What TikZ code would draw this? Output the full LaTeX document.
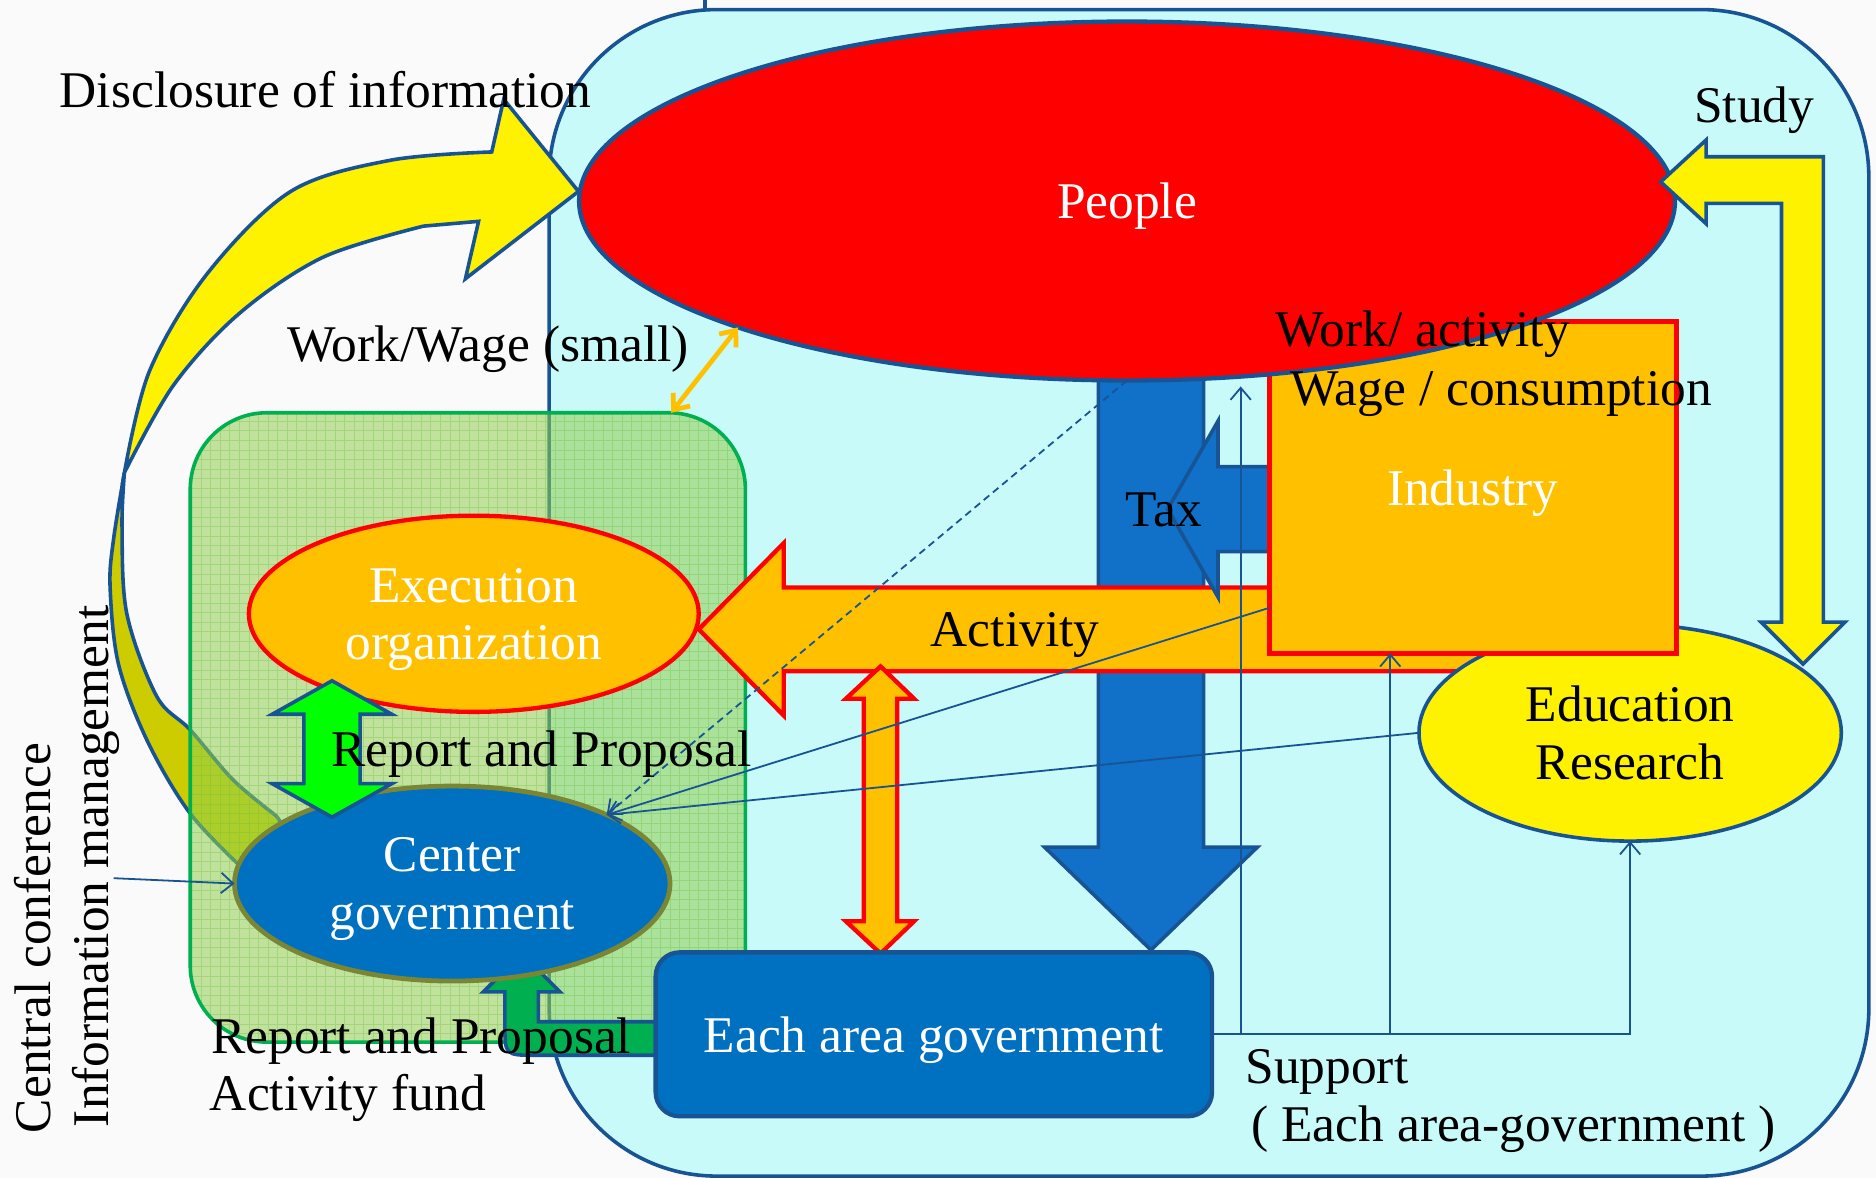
\documentclass[tikz,border=0pt]{standalone}
\usepackage{fontspec}
\setmainfont{Liberation Serif}
\usetikzlibrary{shapes.geometric, arrows.meta}
\definecolor{bg}{RGB}{250,250,250}
\definecolor{cyanfill}{RGB}{200,250,250}
\definecolor{dblue}{RGB}{24,84,148}
\definecolor{orng}{RGB}{255,192,0}
\definecolor{boxblue}{RGB}{0,112,192}
\definecolor{taxblue}{RGB}{17,112,200}
\definecolor{olivebd}{RGB}{122,134,52}
\definecolor{brgreen}{RGB}{0,255,0}
\definecolor{dgreen}{RGB}{0,176,80}
\definecolor{gfill}{RGB}{146,208,80}
\definecolor{gridgreen}{RGB}{110,190,60}
\definecolor{olivefill}{RGB}{204,204,0}
\begin{document}
\begin{tikzpicture}[x=0.5pt, y=-0.5pt,
  every node/.style={font=\fontsize{21.5}{24}\selectfont, inner sep=0pt, outer sep=0pt},
  lbl/.style={anchor=base west, text=black},
  intext/.style={text depth=0pt, align=center},
  thinarr/.style={draw=dblue, line width=0.75pt, -{Straight Barb[length=5pt,width=8.5pt]}},
  blk/.style={line width=1.5pt, line join=miter},
]
% background and bounding box
\fill[bg] (0,0) rectangle (1568,984.6);
\useasboundingbox (0,0) rectangle (1568,984.6);

% outer cyan region
\draw[fill=cyanfill, draw=dblue, line width=1.5pt, rounded corners=70pt] (459,8) rectangle (1562,983);
\draw[dblue, line width=1.5pt] (589,-2) -- (589,9);

% curved yellow arrow (back part)
\filldraw[fill=olivefill, draw=dblue, line width=1.5pt, line join=round]
  plot[smooth, tension=0.55] coordinates {(104,395) (95,450) (92,490) (99,555) (123,619) (159,680) (205,728)}
  -- (240,695)
  -- plot[smooth, tension=0.55] coordinates {(231,682) (195,652) (159,610) (131,582) (106,513) (102,440) (104,395)}
  -- cycle;
% curved yellow arrow (front part)
\filldraw[fill=yellow, draw=dblue, blk]
  plot[smooth, tension=0.55] coordinates {(104,395) (125,310) (173,229) (243,160) (326,134) (411,127)}
  -- (421,83) -- (483.5,160) -- (389,233) -- (400,185)
  -- plot[smooth, tension=0.55] coordinates {(354,189) (270,215) (200,262) (145,322) (104,395)}
  -- cycle;

% green translucent box with fine grid
\node[fill=gfill, fill opacity=0.55, rounded corners=32pt,
      minimum width=232pt, minimum height=263pt] (gbox) at (391,608) {};
\begin{scope}
  \clip[rounded corners=32pt] (159,345) rectangle (623,871);
  \draw[gridgreen, line width=0.25pt, opacity=0.35, step=4pt] (150,340) grid (630,880);
\end{scope}
\draw[dgreen, line width=1.5pt, rounded corners=32pt] (gbox.south west) rectangle (gbox.north east);

% big tax arrow
\filldraw[fill=taxblue, draw=dblue, blk] (918,300) -- (918,708) -- (873,708) -- (962,794) -- (1051,708) -- (1006,708) -- (1006,300) -- cycle;

% activity arrow
\filldraw[fill=orng, draw=red, line width=1.8pt, line join=miter] (1250,491) -- (655,491) -- (655,454) -- (584,526) -- (655,598) -- (655,561) -- (1250,561) -- cycle;

% education
\node[ellipse, draw=dblue, line width=1.5pt, fill=yellow, minimum width=176.5pt, minimum height=90.5pt, intext] (edu) at (1362.5,612.5) {Education\\Research};

% small tax arrow
\filldraw[fill=taxblue, draw=dblue, blk] (1080,390) -- (1018,390) -- (1018,352) -- (976,425.5) -- (1018,499) -- (1018,461) -- (1080,461) -- cycle;

% industry
\node[draw=red, line width=2pt, fill=orng, minimum width=170pt, minimum height=138.5pt, text=white, intext] (ind) at (1231,407.5) {Industry};

% people
\node[ellipse, draw=dblue, line width=1.8pt, fill=red, minimum width=458pt, minimum height=150pt, text=white, intext] (people) at (942,168) {People};

% study arrow
\filldraw[fill=yellow, draw=dblue, blk] (1489,520) -- (1472,520) -- (1507,555) -- (1542,520) -- (1524,520) -- (1524,131) -- (1426,131) -- (1426,117) -- (1388,152) -- (1426,187) -- (1426,170) -- (1489,170) -- cycle;

% green bent arrow (report / fund)
\filldraw[fill=dgreen, draw=dblue, blk] (570,854) -- (450,854) -- (450,829) -- (468,829) -- (436,797) -- (404,829) -- (422,829) -- (422,856) .. controls (422,882) .. (448,882) -- (570,882) -- cycle;

% execution organization and center government
\node[ellipse, draw=red, line width=1.8pt, fill=orng, minimum width=188pt, minimum height=82pt, text=white, intext] (exec) at (396,513) {Execution\\organization};
\node[ellipse, draw=olivebd, line width=2pt, fill=boxblue, minimum width=182pt, minimum height=81.5pt, text=white, intext] (cg) at (378,738.5) {Center\\government};

% green double arrow
\filldraw[fill=brgreen, draw=dblue, blk] (277.5,569) -- (327.5,597) -- (301,597) -- (301,655) -- (327.5,655) -- (277.5,683) -- (227.5,655) -- (254,655) -- (254,597) -- (227.5,597) -- cycle;

% orange double arrow
\filldraw[fill=orng, draw=red, line width=1.8pt, line join=miter] (736,557) -- (764,584) -- (750,584) -- (750,770) -- (764,770) -- (736,797) -- (707,770) -- (722,770) -- (722,584) -- (707,584) -- cycle;

% each area government
\node[draw=dblue, line width=1.8pt, fill=boxblue, rounded corners=10pt, minimum width=232.5pt, minimum height=68.5pt, text=white, intext] (each) at (780.5,864.5) {Each area government};

% work/wage small double arrow
\coordinate (ww1) at (561,345);
\coordinate (ww2) at (people.198);
\draw[orng, line width=2pt, {Straight Barb[length=5.5pt,width=9pt]}-{Straight Barb[length=5.5pt,width=9pt]}] (ww1) -- (ww2);

% thin connectors
\coordinate (indL) at (1061,508);
\coordinate (s1) at (1037,864.5);
\coordinate (s1top) at (1037,323);
\coordinate (s2) at (1162,864.5);
\coordinate (cc) at (95,734);
\draw[thinarr] (indL) -- (cg.24);
\draw[thinarr] (edu.west) -- (cg.24);
\draw[thinarr, dash pattern=on 3pt off 2pt] (people.south) -- (cg.24);
\draw[thinarr] (each.east) -| (edu.south);
\draw[thinarr] (s1) -- (s1top);
\draw[thinarr] (s2) -- (s2 |- ind.south);
\draw[thinarr] (cc) -- (cg.west);

% labels
\node[lbl] (t1) at (50,89.6) {Disclosure of information};
\node[lbl] (t2) at (240,302) {Work/Wage (small)};
\node[lbl] (t3) at (1416,102) {Study};
\node[lbl] (t4) at (1066,289.5) {Work/ activity};
\node[lbl] (t5) at (1078.5,339) {Wage / consumption};
\node[lbl] (t6) at (940.6,440) {Tax};
\node[lbl] (t7) at (778,540.7) {Activity};
\node[lbl] (t8) at (277,641) {Report and Proposal};
\node[lbl] (t9) at (176.5,880.5) {Report and Proposal};
\node[lbl] (t10) at (175.5,928) {Activity fund};
\node[lbl] (t11) at (1041,905.6) {Support};
\node[lbl] (t12) at (1046,953.7) {( Each area-government )};
\node[lbl, rotate=90] (t13) at (42,947) {Central conference};
\node[lbl, rotate=90] (t14) at (90.5,942) {Information management};
\end{tikzpicture}
\end{document}
